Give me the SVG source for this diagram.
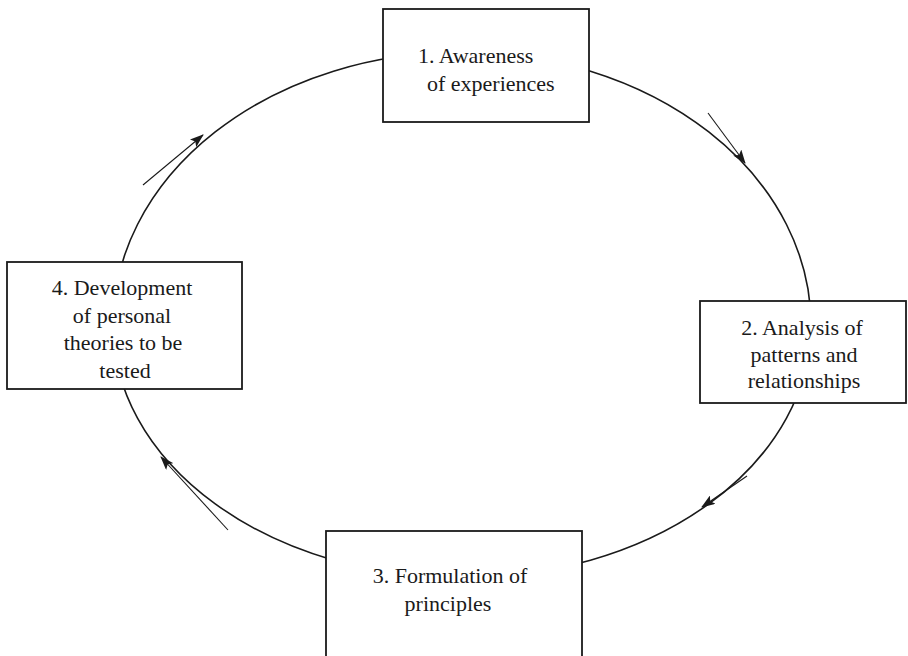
<svg xmlns="http://www.w3.org/2000/svg" width="908" height="656" viewBox="0 0 908 656">
<style>
  .box { fill: #ffffff; stroke: #1a1a1a; stroke-width: 1.8; }
  .cycle { fill: none; stroke: #1a1a1a; stroke-width: 1.6; }
  .arrow { fill: none; stroke: #1a1a1a; stroke-width: 1.1; marker-end: url(#head); }
  .lbl { font-family: 'Liberation Serif', 'Times New Roman', serif; font-size: 22px; fill: #1a1a1a; }
  .mid { text-anchor: middle; }
</style>
<defs>
  <marker id="head" viewBox="0 0 14 10" refX="13" refY="5" markerWidth="14" markerHeight="10" markerUnits="userSpaceOnUse" orient="auto">
    <path d="M0,0 L14,5 L0,10 L3,5 Z" fill="#1a1a1a"/>
  </marker>
</defs>
<rect width="908" height="656" fill="#ffffff"/>
<g id="connectors">
  <path class="cycle" d="M 113 325 A 349 273 0 0 1 811 325 A 349 253 0 0 1 113 325 Z"/>
  <line class="arrow" x1="708" y1="113" x2="745" y2="163"/>
  <line class="arrow" x1="747" y1="476" x2="702" y2="507"/>
  <line class="arrow" x1="228" y1="530" x2="161" y2="457"/>
  <line class="arrow" x1="143" y1="185" x2="203" y2="135"/>
</g>
<g id="node1">
  <rect class="box" x="383" y="9" width="206" height="113"/>
  <text class="lbl" x="418" y="63">1. Awareness</text>
  <text class="lbl" x="427" y="91">of experiences</text>
</g>
<g id="node2">
  <rect class="box" x="700" y="301" width="206" height="102"/>
  <text class="lbl mid" x="802" y="335">2. Analysis of</text>
  <text class="lbl mid" x="804" y="362">patterns and</text>
  <text class="lbl mid" x="804" y="388">relationships</text>
</g>
<g id="node3">
  <rect class="box" x="326" y="531" width="256" height="135"/>
  <text class="lbl mid" x="450" y="583">3. Formulation of</text>
  <text class="lbl mid" x="448" y="611">principles</text>
</g>
<g id="node4">
  <rect class="box" x="7" y="262" width="235" height="127"/>
  <text class="lbl mid" x="122" y="295">4. Development</text>
  <text class="lbl mid" x="122" y="323">of personal</text>
  <text class="lbl mid" x="123" y="350">theories to be</text>
  <text class="lbl mid" x="125" y="378">tested</text>
</g>
</svg>
